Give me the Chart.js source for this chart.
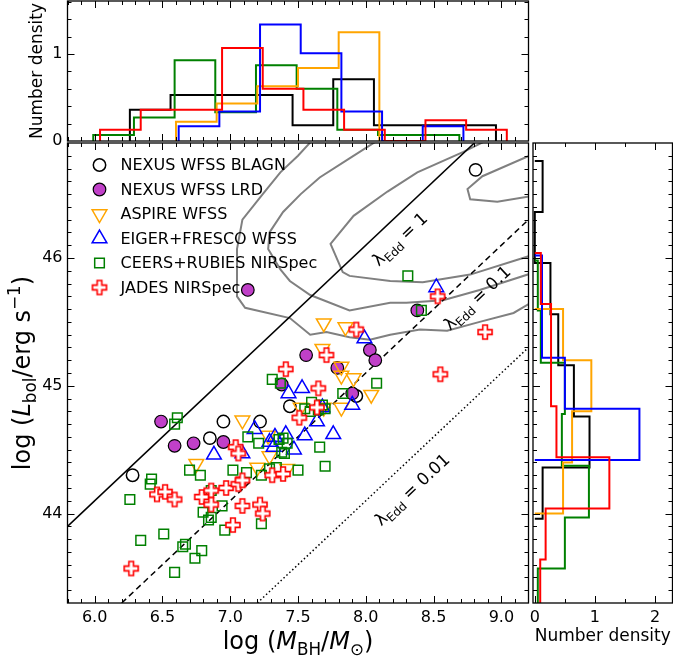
<!DOCTYPE html>
<html>
<head>
<meta charset="utf-8">
<script src="https://cdn.jsdelivr.net/npm/chart.js@4.4.0/dist/chart.umd.min.js"></script>
<style>
  html, body { margin: 0; padding: 0; background: #fff; }
  #wrap { position: relative; width: 673px; height: 658px; }
  #wrap canvas { position: absolute; left: 0; top: 0; }
</style>
</head>
<body>
<div id="wrap">
  <canvas id="topHist" width="673" height="658"></canvas>
  <canvas id="mainChart" width="673" height="658"></canvas>
  <canvas id="sideHist" width="673" height="658"></canvas>
</div>
<script>
const FONT = '"DejaVu Sans", sans-serif';

// axis ticks
const massTicks = [6.0, 6.5, 7.0, 7.5, 8.0, 8.5, 9.0];
const lbolTicks = [44, 45, 46];
const topDensTicks = [0, 1];
const sideDensTicks = [0, 1, 2];

// samples: log M_BH and log L_bol
const blagnMass = [6.28, 6.85, 6.95, 7.22, 7.44, 7.93, 8.81];
const blagnLbol = [44.30, 44.59, 44.72, 44.72, 44.84, 44.92, 46.69];

const lrdMass = [6.49, 6.59, 6.73, 6.95, 7.13, 7.38, 7.56, 7.79, 7.90, 8.03, 8.07, 8.38];
const lrdLbol = [44.72, 44.53, 44.55, 44.56, 45.75, 45.01, 45.24, 45.14, 44.94, 45.28, 45.20, 45.59];

const aspireMass = [6.75, 7.09, 7.20, 7.28, 7.29, 7.42, 7.52, 7.69, 7.85, 7.68, 7.82, 7.82, 7.91, 8.04, 7.82, 7.69];
const aspireLbol = [44.39, 44.73, 44.36, 44.61, 44.45, 44.35, 44.83, 45.49, 45.46, 45.29, 45.15, 45.08, 45.06, 44.93, 44.83, 44.83];

const eigerMass = [6.88, 7.09, 7.18, 7.29, 7.33, 7.41, 7.47, 7.43, 7.53, 7.55, 7.64, 7.76, 7.68, 7.90, 7.99, 8.52, 7.32];
const eigerLbol = [44.46, 44.47, 44.66, 44.56, 44.60, 44.62, 44.50, 44.94, 44.98, 44.61, 44.72, 44.62, 44.83, 44.85, 45.37, 45.77, 44.52];

const ceersMass = [6.26, 6.41, 6.42, 6.34, 6.51, 6.59, 6.65, 6.67, 6.74, 6.79, 6.59, 6.61,
  6.70, 6.78, 6.80, 6.84, 6.86, 6.86, 6.94, 6.96, 7.02, 7.12, 7.13, 7.21,
  7.23, 7.23, 7.31, 7.37, 7.29, 7.34, 7.36, 7.39, 7.42, 7.38, 7.40, 7.50,
  7.55, 7.59, 7.60, 7.65, 7.68, 7.66, 7.70, 7.83, 8.08, 8.31, 8.41, 7.70];
const ceersLbol = [44.11, 44.23, 44.27, 43.79, 43.84, 43.54, 43.74, 43.76, 43.65, 43.71, 44.70, 44.75,
  44.34, 44.30, 44.01, 43.95, 43.97, 44.18, 44.06, 43.87, 44.34, 44.32, 44.60, 44.55,
  43.92, 44.30, 45.05, 45.02, 44.35, 44.36, 44.58, 44.59, 44.55, 44.48, 44.47, 44.34,
  44.82, 44.80, 44.87, 44.81, 44.85, 44.52, 44.37, 44.94, 45.02, 45.86, 45.59, 44.82];

const jadesMass = [6.27, 6.46, 6.52, 6.59, 6.79, 6.86, 6.86, 6.97, 7.06, 7.09, 7.09, 7.02, 7.04, 7.06,
  7.22, 7.24, 7.31, 7.39, 7.41, 7.51, 7.64, 7.65, 7.71, 7.93, 8.53, 8.55, 8.88];
const jadesLbol = [43.57, 44.15, 44.17, 44.11, 44.13, 44.18, 44.07, 44.20, 44.23, 44.26, 44.06, 43.91, 44.52, 44.47,
  44.07, 44.00, 44.30, 44.31, 45.13, 44.75, 44.83, 44.98, 45.24, 45.44, 45.70, 45.09, 45.42];

// comparison quasar density contours (log M_BH, log L_bol)
const contour1 = [[7.69, 47.02], [7.50, 46.80], [7.37, 46.67], [7.24, 46.50], [7.09, 46.30], [7.05, 46.07],
  [7.05, 45.70], [7.11, 45.61], [7.44, 45.53], [7.59, 45.40], [7.71, 45.42], [7.88, 45.38], [8.03, 45.36],
  [8.18, 45.40], [8.40, 45.44], [8.60, 45.43], [8.84, 45.50], [9.09, 45.57], [9.25, 45.67]];
const contour2 = [[8.22, 47.01], [7.88, 46.78], [7.66, 46.63], [7.52, 46.50], [7.39, 46.36], [7.29, 46.20],
  [7.28, 46.07], [7.37, 45.91], [7.44, 45.82], [7.59, 45.71], [7.88, 45.59], [8.18, 45.65], [8.30, 45.65],
  [8.57, 45.67], [8.84, 45.75], [9.25, 45.89]];
const contour3 = [[9.06, 47.01], [8.72, 46.83], [8.38, 46.67], [8.16, 46.52], [7.91, 46.33], [7.74, 46.11],
  [7.83, 45.89], [7.88, 45.86], [8.18, 45.82], [8.42, 45.81], [8.77, 45.87], [9.25, 46.03]];
const contour4 = [[9.25, 46.82], [8.86, 46.64], [8.75, 46.54], [8.77, 46.46], [8.97, 46.44], [9.25, 46.49]];

// Eddington ratio lines
const eddOne = [[5.8, 43.9], [9.2, 47.3]];
const eddTenth = [[6.2, 43.3], [9.2, 46.3]];
const eddHundredth = [[7.2, 43.3], [9.2, 45.3]];

// log M_BH histograms: bin edges and number density
const hmBlagnEdges = [6.26, 6.56, 6.86, 7.16, 7.46, 7.76, 8.06, 8.36, 8.66, 8.96];
const hmBlagnDens = [0.36, 0.53, 0.53, 0.53, 0.18, 0.71, 0.18, 0.18, 0.18];
const hmCeersEdges = [5.99, 6.29, 6.59, 6.89, 7.19, 7.49, 7.79, 8.09, 8.39, 8.69];
const hmCeersDens = [0.07, 0.27, 0.93, 0.33, 0.87, 0.60, 0.13, 0.07, 0.07];
const hmAspireEdges = [6.60, 6.90, 7.20, 7.50, 7.80, 8.10];
const hmAspireDens = [0.22, 0.43, 0.63, 0.84, 1.25];
const hmEigerEdges = [6.62, 6.92, 7.22, 7.52, 7.82, 8.12, 8.42, 8.72];
const hmEigerDens = [0.17, 0.34, 1.34, 1.01, 0.34, 0, 0.17];
const hmJadesEdges = [6.04, 6.34, 6.64, 6.94, 7.24, 7.54, 7.84, 8.14, 8.44, 8.74, 9.04];
const hmJadesDens = [0.13, 0.36, 0.36, 1.07, 0.60, 0.36, 0.13, 0, 0.24, 0.13];

// log L_bol histograms
const hlBlagnEdges = [43.96, 44.36, 44.76, 45.16, 45.56, 45.96, 46.36, 46.76];
const hlBlagnDens = [0.13, 0.91, 0.65, 0.39, 0.26, 0, 0.13];
const hlCeersEdges = [43.17, 43.57, 43.97, 44.375, 44.78, 45.18, 45.59, 45.98];
const hlCeersDens = [0.05, 0.50, 0.90, 0.45, 0.50, 0.10, 0.05];
const hlAspireEdges = [44.0, 44.4, 44.8, 45.2, 45.6];
const hlAspireDens = [0.47, 0.62, 0.94, 0.47];
const hlEigerEdges = [44.42, 44.82, 45.22, 45.62, 46.02];
const hlEigerDens = [1.74, 0.50, 0.12, 0.12];
const hlJadesEdges = [43.24, 43.64, 44.04, 44.44, 44.84, 45.24, 45.64, 46.04];
const hlJadesDens = [0.09, 0.18, 1.24, 0.36, 0.27, 0.27, 0.10];

const C = { blagn: '#000000', lrd: '#c040c8', aspire: '#ffa500', eiger: '#0000ff', ceers: '#008000', jades: '#ff0000' };

// fat plus marker with white face
function plusMarker(size, color, lw) {
  const d = Math.ceil(size + lw + 2);
  const c = document.createElement('canvas');
  c.width = d; c.height = d;
  const g = c.getContext('2d');
  const h = size / 2, a = size / 6, cx = d / 2, cy = d / 2;
  g.beginPath();
  g.moveTo(cx - a, cy - h); g.lineTo(cx + a, cy - h); g.lineTo(cx + a, cy - a);
  g.lineTo(cx + h, cy - a); g.lineTo(cx + h, cy + a); g.lineTo(cx + a, cy + a);
  g.lineTo(cx + a, cy + h); g.lineTo(cx - a, cy + h); g.lineTo(cx - a, cy + a);
  g.lineTo(cx - h, cy + a); g.lineTo(cx - h, cy - a); g.lineTo(cx - a, cy - a);
  g.closePath();
  g.fillStyle = '#fff'; g.fill();
  g.strokeStyle = color; g.lineWidth = lw; g.stroke();
  return c;
}
const plusImg = plusMarker(14, C.jades, 1.6);

const markers = {
  blagn: { pointStyle: 'circle', radius: 6.2, rotation: 0, border: C.blagn, fill: 'rgba(0,0,0,0)', bw: 1.5 },
  lrd: { pointStyle: 'circle', radius: 6.3, rotation: 0, border: '#000', fill: C.lrd, bw: 1.2 },
  aspire: { pointStyle: 'triangle', radius: 8.5, rotation: 180, border: C.aspire, fill: 'rgba(0,0,0,0)', bw: 1.5 },
  eiger: { pointStyle: 'triangle', radius: 8.5, rotation: 0, border: C.eiger, fill: 'rgba(0,0,0,0)', bw: 1.5 },
  ceers: { pointStyle: 'rect', radius: 6.8, rotation: 0, border: C.ceers, fill: 'rgba(0,0,0,0)', bw: 1.5 },
  jades: { pointStyle: plusImg, radius: 7, rotation: 0, border: C.jades, fill: '#fff', bw: 0 }
};

const legendRows = [
  ['blagn', 'NEXUS WFSS BLAGN'],
  ['lrd', 'NEXUS WFSS LRD'],
  ['aspire', 'ASPIRE WFSS'],
  ['eiger', 'EIGER+FRESCO WFSS'],
  ['ceers', 'CEERS+RUBIES NIRSpec'],
  ['jades', 'JADES NIRSpec']
];

function pts(xs, ys) { return xs.map((v, i) => ({ x: v, y: ys[i] })); }
function pairs(list) { return list.map(p => ({ x: p[0], y: p[1] })); }

function scatterSet(key, xs, ys, order) {
  const m = markers[key];
  return {
    label: key, data: pts(xs, ys), order,
    pointStyle: m.pointStyle, pointRadius: m.radius, pointHoverRadius: m.radius,
    pointRotation: m.rotation, pointBorderColor: m.border, pointBackgroundColor: m.fill,
    pointBorderWidth: m.bw, pointHoverBorderWidth: m.bw, showLine: false
  };
}
function lineSet(list, color, width, dash, order) {
  return { data: pairs(list), showLine: true, pointRadius: 0, pointHoverRadius: 0,
    borderColor: color, borderWidth: width, borderDash: dash, order, tension: 0 };
}

// step outline of a histogram along x
function stepX(edges, dens) {
  const out = [{ x: edges[0], y: 0 }];
  dens.forEach((d, i) => out.push({ x: edges[i], y: d }));
  out.push({ x: edges[edges.length - 1], y: 0 });
  return out;
}
// step outline of a histogram along y
function stepY(edges, dens) {
  const out = [{ x: 0, y: edges[0] }];
  dens.forEach((d, i) => out.push({ x: d, y: edges[i] }));
  out.push({ x: 0, y: edges[edges.length - 1] });
  return out;
}
function histSet(data, color, stepped, order) {
  return { data, showLine: true, stepped, pointRadius: 0, pointHoverRadius: 0,
    borderColor: color, borderWidth: 2, order };
}

function fontOf(p, size) {
  const s = (p.sub || p.sup) ? size * 0.7 : size;
  return (p.it ? 'italic ' : '') + s + 'px ' + FONT;
}
function richWidth(ctx, parts, size) {
  let w = 0;
  parts.forEach(p => { ctx.font = fontOf(p, size); w += ctx.measureText(p.t).width; });
  return w;
}
function drawRich(ctx, parts, x, y, size) {
  let cx = x - richWidth(ctx, parts, size) / 2;
  ctx.textBaseline = 'alphabetic';
  ctx.textAlign = 'left';
  parts.forEach(p => {
    ctx.font = fontOf(p, size);
    const dy = p.sub ? size * 0.24 : p.sup ? -size * 0.4 : 0;
    ctx.fillText(p.t, cx, y + dy);
    cx += ctx.measureText(p.t).width;
  });
}

// inward ticks on all four sides plus the frame
function drawFrame(chart, xMaj, xMin, yMaj, yMin) {
  const { ctx, chartArea: a, scales: { x, y } } = chart;
  ctx.save();
  ctx.strokeStyle = '#000';
  ctx.lineWidth = 1;
  ctx.beginPath();
  const xt = (vals, len) => vals.forEach(v => {
    const p = Math.round(x.getPixelForValue(v)) + 0.5;
    if (p < a.left + 1 || p > a.right - 1) return;
    ctx.moveTo(p, a.bottom); ctx.lineTo(p, a.bottom - len);
    ctx.moveTo(p, a.top); ctx.lineTo(p, a.top + len);
  });
  const yt = (vals, len) => vals.forEach(v => {
    const p = Math.round(y.getPixelForValue(v)) + 0.5;
    if (p < a.top + 1 || p > a.bottom - 1) return;
    ctx.moveTo(a.left, p); ctx.lineTo(a.left + len, p);
    ctx.moveTo(a.right, p); ctx.lineTo(a.right - len, p);
  });
  xt(xMaj, 7); xt(xMin, 4); yt(yMaj, 7); yt(yMin, 4);
  ctx.stroke();
  ctx.lineWidth = 1.3;
  ctx.strokeRect(a.left, a.top, a.right - a.left, a.bottom - a.top);
  ctx.restore();
}
function range(lo, hi, step) {
  const out = [];
  for (let v = lo; v <= hi + 1e-9; v += step) out.push(Math.round(v * 100) / 100);
  return out;
}
const massMinor = range(5.8, 9.2, 0.1);
const lbolMinor = range(43.3, 46.9, 0.1);

// fixed box size for a scale, without the extra room Chart.js keeps for edge labels
function fixSize(prop, val) {
  return s => {
    s[prop] = val;
    s.paddingTop = 0; s.paddingBottom = 0; s.paddingLeft = 0; s.paddingRight = 0;
  };
}

function baseScale(min, max, extra) {
  return Object.assign({
    type: 'linear', min, max,
    grid: { display: false, drawTicks: false },
    border: { display: false },
    ticks: { font: { family: FONT, size: 16 }, color: '#000', padding: 6, maxRotation: 0, autoSkip: false }
  }, extra);
}

const common = {
  responsive: false, animation: false, events: [],
  plugins: { legend: { display: false }, tooltip: { enabled: false } }
};

// main panel
new Chart(document.getElementById('mainChart'), {
  type: 'scatter',
  data: {
    datasets: [
      lineSet(contour1, '#808080', 2, [], 20),
      lineSet(contour2, '#808080', 2, [], 20),
      lineSet(contour3, '#808080', 2, [], 20),
      lineSet(contour4, '#808080', 2, [], 20),
      lineSet(eddOne, '#000', 1.5, [], 15),
      lineSet(eddTenth, '#000', 1.5, [6, 4], 15),
      lineSet(eddHundredth, '#000', 1.5, [1.5, 2.5], 15),
      scatterSet('blagn', blagnMass, blagnLbol, 7),
      scatterSet('lrd', lrdMass, lrdLbol, 6),
      scatterSet('aspire', aspireMass, aspireLbol, 5),
      scatterSet('eiger', eigerMass, eigerLbol, 4),
      scatterSet('ceers', ceersMass, ceersLbol, 3),
      scatterSet('jades', jadesMass, jadesLbol, 2)
    ]
  },
  options: Object.assign({}, common, {
    layout: { padding: { left: 0, right: 144.5, top: 143, bottom: 0 } },
    scales: {
      x: baseScale(5.8, 9.2, {
        afterBuildTicks: s => { s.ticks = massTicks.map(v => ({ value: v })); },
        afterFit: fixSize('height', 55),
        ticks: { font: { family: FONT, size: 16 }, color: '#000', padding: 5, maxRotation: 0, autoSkip: false,
          callback: v => v.toFixed(1) }
      }),
      y: baseScale(43.3, 46.9, {
        afterBuildTicks: s => { s.ticks = lbolTicks.map(v => ({ value: v })); },
        afterFit: fixSize('width', 67.5),
        ticks: { font: { family: FONT, size: 16 }, color: '#000', padding: 5, callback: v => String(v) }
      })
    }
  }),
  plugins: [{
    id: 'mainDecor',
    afterDatasetsDraw(chart) {
      const { ctx, chartArea: a, scales: { x, y } } = chart;
      // Eddington ratio labels along the lines
      const ang = Math.atan2(y.getPixelForValue(45) - y.getPixelForValue(44), x.getPixelForValue(8) - x.getPixelForValue(7));
      const eddLabels = [[8.25, 46.15, ' = 1'], [8.82, 45.69, ' = 0.1'], [8.34, 44.19, ' = 0.01']];
      ctx.save();
      ctx.fillStyle = '#000';
      eddLabels.forEach(([m, l, txt]) => {
        ctx.save();
        ctx.translate(x.getPixelForValue(m), y.getPixelForValue(l));
        ctx.rotate(ang);
        drawRich(ctx, [{ t: 'λ' }, { t: 'Edd', sub: true }, { t: txt }], 0, 6, 17);
        ctx.restore();
      });
      ctx.restore();

      drawFrame(chart, massTicks, massMinor, lbolTicks, lbolMinor);

      // legend
      ctx.save();
      legendRows.forEach(([key, text], i) => {
        const m = markers[key];
        const mx = a.left + 32, my = a.top + 22 + i * 24.5;
        if (key === 'jades') {
          ctx.drawImage(plusImg, mx - plusImg.width / 2, my - plusImg.height / 2);
        } else {
          ctx.fillStyle = m.fill; ctx.strokeStyle = m.border; ctx.lineWidth = m.bw;
          Chart.helpers.drawPoint(ctx, { pointStyle: m.pointStyle, radius: m.radius, rotation: m.rotation, borderWidth: m.bw }, mx, my);
        }
        ctx.fillStyle = '#000';
        ctx.font = '16px ' + FONT;
        ctx.textAlign = 'left'; ctx.textBaseline = 'middle';
        ctx.fillText(text, a.left + 53, my + 1);
      });
      ctx.restore();

      // axis titles
      ctx.save();
      ctx.fillStyle = '#000';
      drawRich(ctx, [{ t: 'log (' }, { t: 'M', it: true }, { t: 'BH', sub: true }, { t: '/' },
        { t: 'M', it: true }, { t: '⊙', sub: true }, { t: ')' }], (a.left + a.right) / 2, 649, 24);
      ctx.translate(30, (a.top + a.bottom) / 2);
      ctx.rotate(-Math.PI / 2);
      drawRich(ctx, [{ t: 'log (' }, { t: 'L', it: true }, { t: 'bol', sub: true }, { t: '/erg s' },
        { t: '−1', sup: true }, { t: ')' }], 0, 0, 24);
      ctx.restore();
    }
  }]
});

// top panel: log M_BH distributions
new Chart(document.getElementById('topHist'), {
  type: 'scatter',
  data: {
    datasets: [
      histSet(stepX(hmBlagnEdges, hmBlagnDens), C.blagn, 'before', 5),
      histSet(stepX(hmCeersEdges, hmCeersDens), C.ceers, 'before', 4),
      histSet(stepX(hmAspireEdges, hmAspireDens), C.aspire, 'before', 3),
      histSet(stepX(hmEigerEdges, hmEigerDens), C.eiger, 'before', 2),
      histSet(stepX(hmJadesEdges, hmJadesDens), C.jades, 'before', 1)
    ]
  },
  options: Object.assign({}, common, {
    layout: { padding: { left: 0, right: 144.5, top: 1, bottom: 517 } },
    scales: {
      x: baseScale(5.8, 9.2, {
        afterFit: fixSize('height', 0),
        ticks: { display: false }
      }),
      y: baseScale(0, 1.61, {
        afterBuildTicks: s => { s.ticks = topDensTicks.map(v => ({ value: v })); },
        afterFit: fixSize('width', 67.5),
        ticks: { font: { family: FONT, size: 16 }, color: '#000', padding: 5, callback: v => String(v) }
      })
    }
  }),
  plugins: [{
    id: 'topDecor',
    afterDatasetsDraw(chart) {
      const { ctx, chartArea: a } = chart;
      drawFrame(chart, massTicks, massMinor, topDensTicks, range(0, 1.6, 0.2));
      ctx.save();
      ctx.fillStyle = '#000';
      ctx.translate(42, (a.top + a.bottom) / 2);
      ctx.rotate(-Math.PI / 2);
      drawRich(ctx, [{ t: 'Number density' }], 0, 0, 17);
      ctx.restore();
    }
  }]
});

// side panel: log L_bol distributions
new Chart(document.getElementById('sideHist'), {
  type: 'scatter',
  data: {
    datasets: [
      histSet(stepY(hlBlagnEdges, hlBlagnDens), C.blagn, 'after', 5),
      histSet(stepY(hlCeersEdges, hlCeersDens), C.ceers, 'after', 4),
      histSet(stepY(hlAspireEdges, hlAspireDens), C.aspire, 'after', 3),
      histSet(stepY(hlEigerEdges, hlEigerDens), C.eiger, 'after', 2),
      histSet(stepY(hlJadesEdges, hlJadesDens), C.jades, 'after', 1)
    ]
  },
  options: Object.assign({}, common, {
    layout: { padding: { left: 533, right: 0.5, top: 143, bottom: 0 } },
    scales: {
      x: baseScale(-0.03, 2.29, {
        afterBuildTicks: s => { s.ticks = sideDensTicks.map(v => ({ value: v })); },
        afterFit: fixSize('height', 55),
        ticks: { font: { family: FONT, size: 16 }, color: '#000', padding: 5, maxRotation: 0, callback: v => String(v) }
      }),
      y: baseScale(43.3, 46.9, {
        afterFit: fixSize('width', 0),
        ticks: { display: false }
      })
    }
  }),
  plugins: [{
    id: 'sideDecor',
    afterDatasetsDraw(chart) {
      const { ctx, chartArea: a } = chart;
      drawFrame(chart, sideDensTicks, [0.5, 1.5], lbolTicks, lbolMinor);
      ctx.save();
      ctx.fillStyle = '#000';
      drawRich(ctx, [{ t: 'Number density' }], (a.left + a.right) / 2, 641, 17);
      ctx.restore();
    }
  }]
});
</script>
</body>
</html>
